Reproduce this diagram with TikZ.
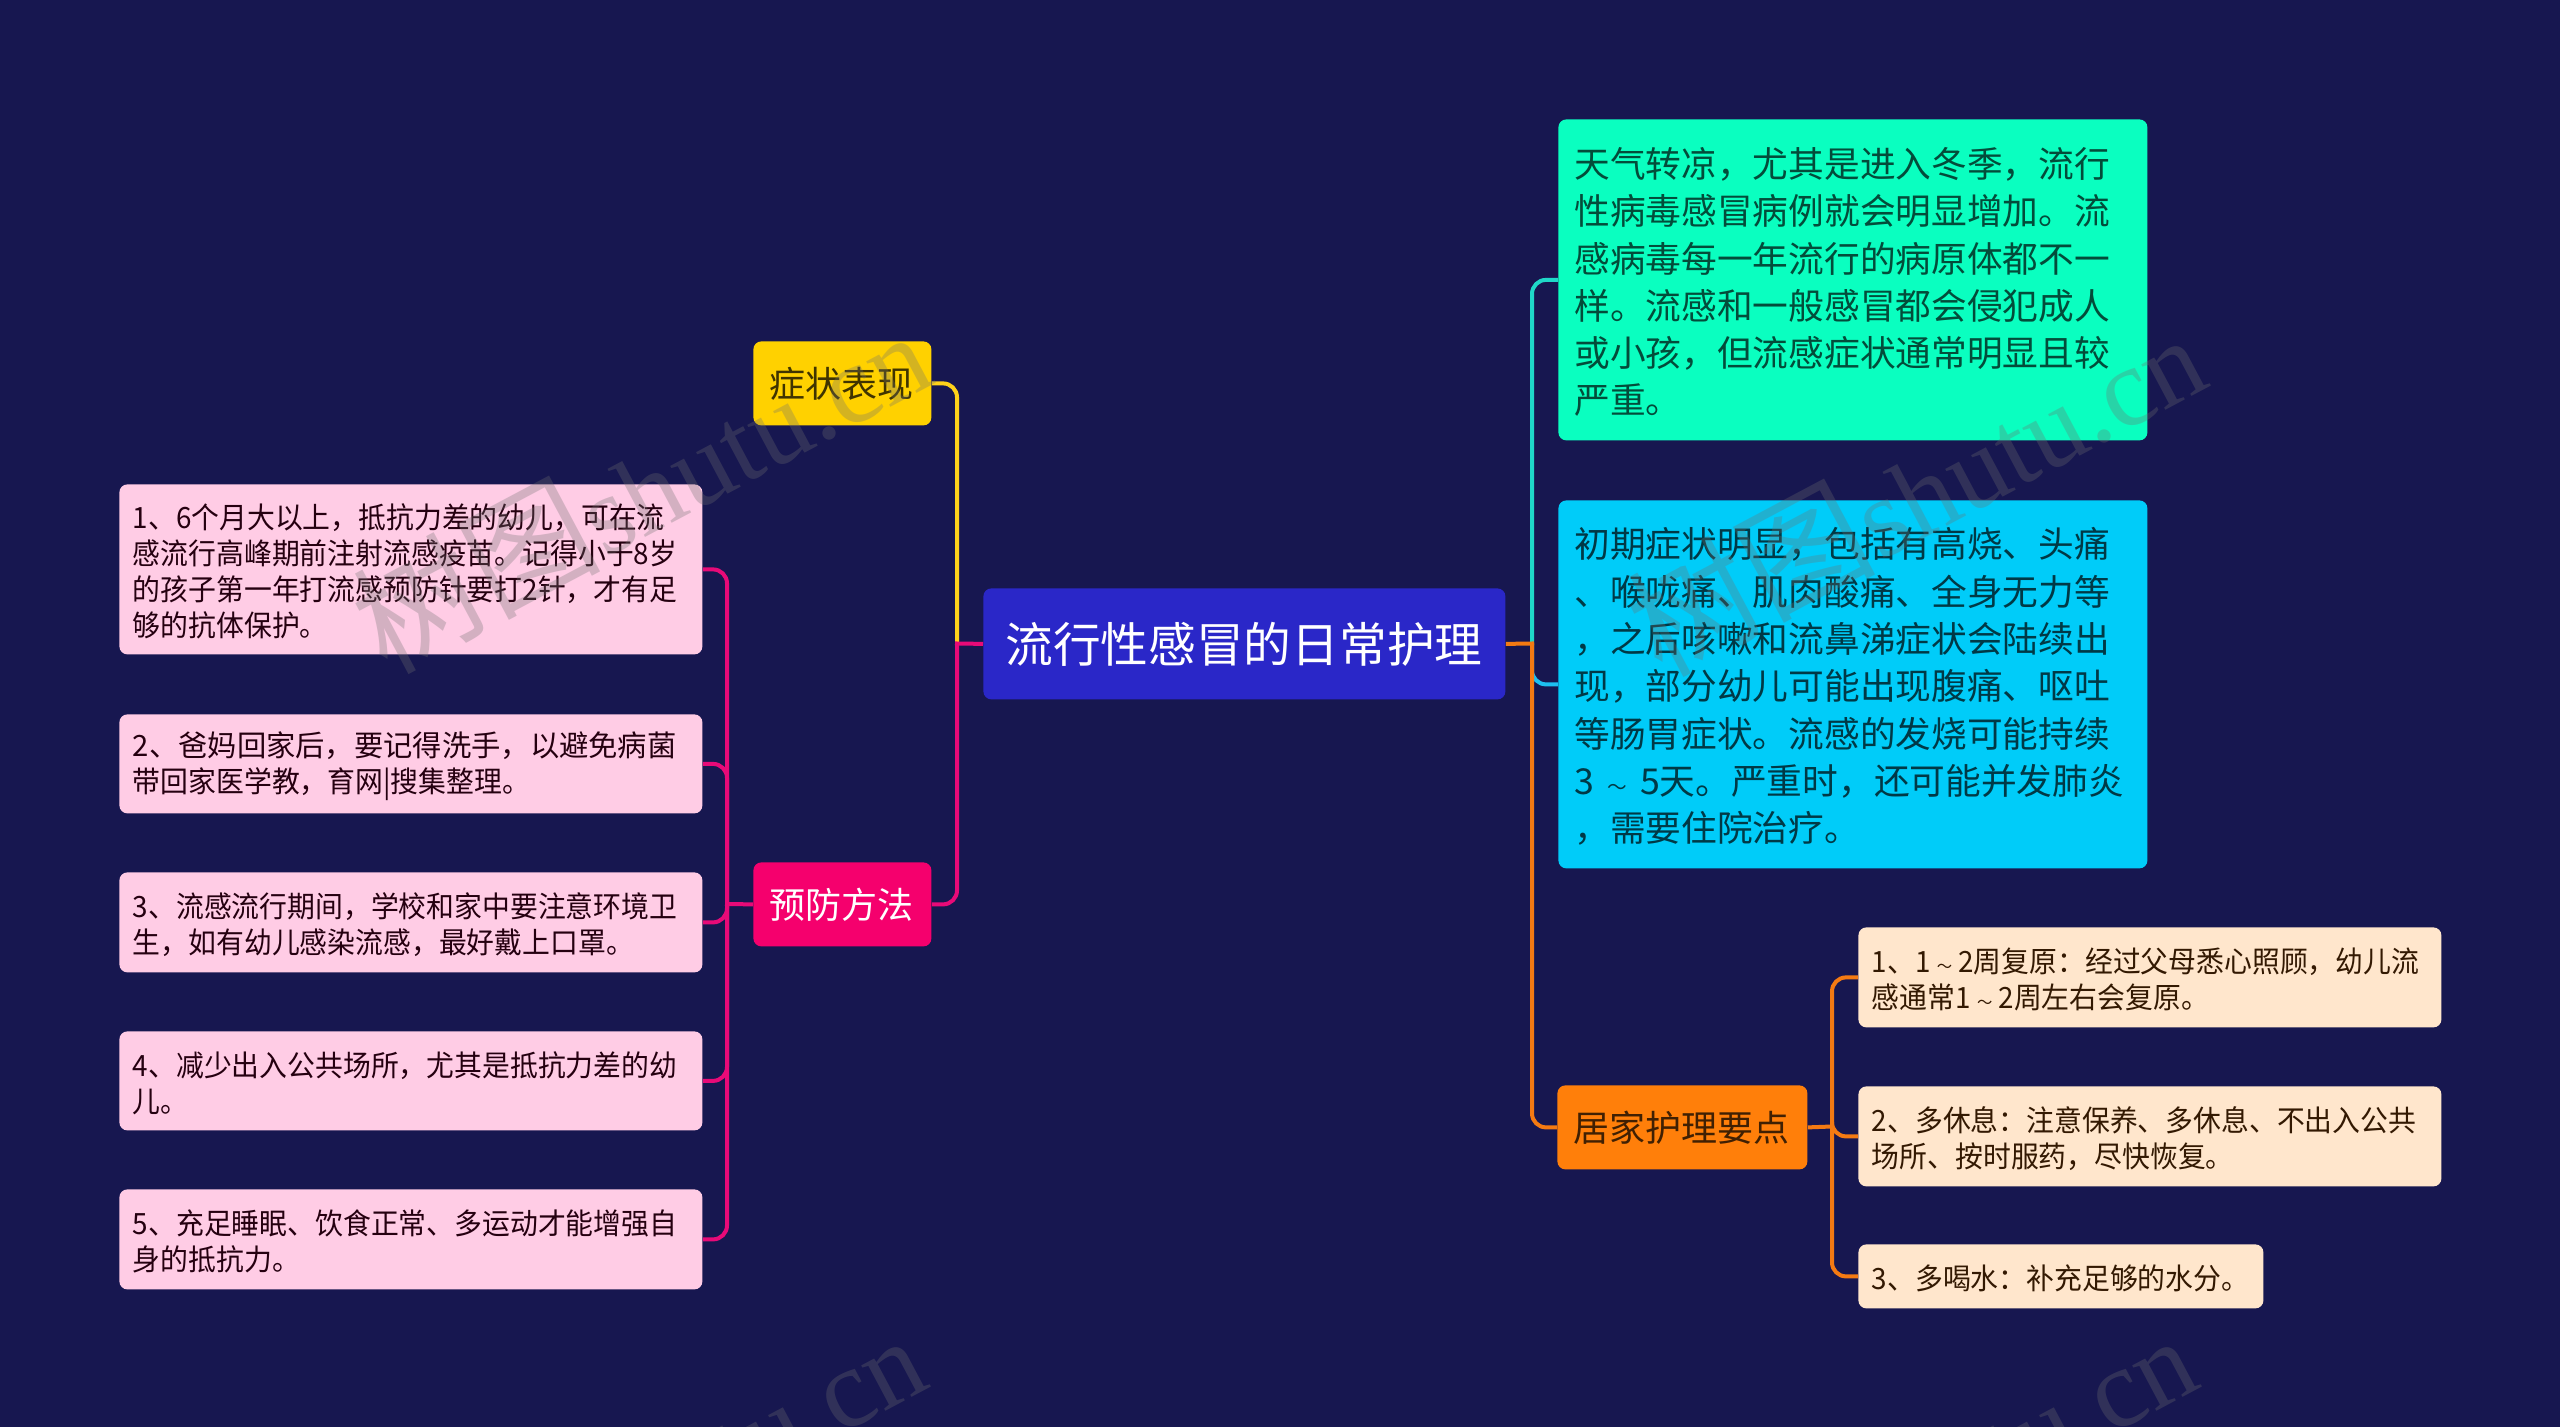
\documentclass[tikz,border=0pt]{standalone}
\usepackage{fontspec}
\setmainfont{Noto Sans CJK SC}
\newfontfamily\wmlatin{Liberation Serif}
\newfontfamily\narrowcjk[FakeStretch=0.95]{Noto Sans CJK SC}
\newcommand{\tld}{\makebox[0.95em]{\scalebox{0.55}{～}}}
\newcommand{\wmark}{树图{\wmlatin\fontsize{56}{56}\selectfont shutu.cn}}
\definecolor{bgc}{HTML}{171750}
\definecolor{rootc}{HTML}{2A27C8}
\definecolor{tealc}{HTML}{0AFFC0}
\definecolor{bluec}{HTML}{00CCF9}
\definecolor{orangec}{HTML}{FF7F0A}
\definecolor{creamc}{HTML}{FFE6CC}
\definecolor{yellowc}{HTML}{FFD100}
\definecolor{magc}{HTML}{F5006D}
\definecolor{pinkc}{HTML}{FFCCE5}
\definecolor{ltealc}{HTML}{1FD8C8}
\definecolor{lbluec}{HTML}{1DBFF0}
\definecolor{lorangec}{HTML}{F47A12}
\definecolor{lyellowc}{HTML}{FFD21A}
\definecolor{lmagc}{HTML}{E80A78}
\definecolor{wmc}{HTML}{707070}
\tikzset{
  x=0.5pt,y=-0.5pt,
  boxbase/.style={anchor=north west,rounded corners=4pt,inner ysep=0pt,align=left},
  rootbox/.style={boxbase,fill=rootc,text=white,inner xsep=11pt,font=\fontsize{23.85}{30}\selectfont,text width=239pt,minimum height=55.5pt},
  bigbox/.style={boxbase,inner xsep=8pt,font=\fontsize{17.85}{23.65}\selectfont,text width=278.5pt,text height=17.3pt},
  topicbox/.style={boxbase,inner xsep=8pt,font=\fontsize{18}{23}\selectfont,minimum height=42pt},
  smallbox/.style={boxbase,inner xsep=6.75pt,font=\narrowcjk\fontsize{14.65}{17.9}\selectfont,text height=14.4pt},
  pinkbox/.style={smallbox,fill=pinkc,text=black!75!magc!60!black,text width=278pt},
  creambox/.style={smallbox,fill=creamc,text=black!80!orangec,text width=278pt,minimum height=50pt},
  conn/.style={line width=2pt,rounded corners=7pt},
  stub/.style={line width=2pt,shorten >=-1pt},
  watermark/.style={rotate=28,text=wmc,opacity=0.3,font=\fontsize{62}{62}\selectfont}
}
\begin{document}
\begin{tikzpicture}
\useasboundingbox (0,0) rectangle (2560,1427);
\clip (0,0) rectangle (2560,1427);
\fill[bgc] (0,0) rectangle (2560,1427);

% junction points
\coordinate (jl) at (957,643.5);
\coordinate (jr) at (1532,643.5);
\coordinate (jm) at (727,904);
\coordinate (jo) at (1832,1126.5);

\node[rootbox] (root) at (983,588) {流行性感冒的日常护理};

\node[bigbox,fill=tealc,text=black!70!tealc,minimum height=160.5pt] (teal) at (1558,119) {天气转凉，尤其是进入冬季，流行\\性病毒感冒病例就会明显增加。流\\感病毒每一年流行的病原体都不一\\样。流感和一般感冒都会侵犯成人\\或小孩，但流感症状通常明显且较\\严重。};
\node[bigbox,fill=bluec,text=black!72!bluec,minimum height=184pt] (blue) at (1558,500) {初期症状明显，包括有高烧、头痛\\、喉咙痛、肌肉酸痛、全身无力等\\，之后咳嗽和流鼻涕症状会陆续出\\现，部分幼儿可能出现腹痛、呕吐\\等肠胃症状。流感的发烧可能持续\\3\,\tld\,5天。严重时，还可能并发肺炎\\，需要住院治疗。};
\node[topicbox,fill=orangec,text=black!75!orangec,text width=109pt] (home) at (1557,1085) {居家护理要点};
\node[creambox] (c1) at (1858,927) {1、1\tld 2周复原：经过父母悉心照顾，幼儿流\\感通常1\tld 2周左右会复原。};
\node[creambox] (c2) at (1858,1086) {2、多休息：注意保养、多休息、不出入公共\\场所、按时服药，尽快恢复。};
\node[smallbox,fill=creamc,text=black!80!orangec,text width=189pt,minimum height=32pt] (c3) at (1858,1244) {3、多喝水：补充足够的水分。};

\node[topicbox,fill=yellowc,text=black!75!yellowc,text width=73pt] (sym) at (753,341) {症状表现};
\node[topicbox,fill=magc,text=white,text width=73pt] (prev) at (753,862) {预防方法};

\node[pinkbox,minimum height=85pt] (p1) at (119,484) {1、6个月大以上，抵抗力差的幼儿，可在流\\感流行高峰期前注射流感疫苗。记得小于8岁\\的孩子第一年打流感预防针要打2针，才有足\\够的抗体保护。};
\node[pinkbox,minimum height=49.5pt] (p2) at (119,714) {{\rmfamily 2、爸妈回家后，要记得洗手，以避免病菌}\\带回家医学教，育网|搜集整理。};
\node[pinkbox,minimum height=50pt] (p3) at (119,872) {3、流感流行期间，学校和家中要注意环境卫\\生，如有幼儿感染流感，最好戴上口罩。};
\node[pinkbox,minimum height=49.5pt] (p4) at (119,1031) {4、减少出入公共场所，尤其是抵抗力差的幼\\儿。};
\node[pinkbox,minimum height=50pt] (p5) at (119,1189) {5、充足睡眠、饮食正常、多运动才能增强自\\身的抵抗力。};

% connectors
\draw[conn,lyellowc] (jl) |- (sym.east);
\draw[conn,lmagc] (jl) |- (prev.east);
\draw[stub,lmagc] (root.west) -- (jl);
\draw[conn,ltealc] (jr) |- (teal.west);
\draw[conn,lbluec] (jr) |- (blue.west);
\draw[conn,lorangec] (jr) |- (home.west);
\draw[stub,lorangec] (root.east) -- (jr);
\draw[conn,lorangec] (jo) |- (c1.west);
\draw[conn,lorangec] (jo) |- (c2.west);
\draw[conn,lorangec] (jo) |- (c3.west);
\draw[stub,lorangec] (home.east) -- (jo);
\foreach \n in {p1,p2,p3,p4,p5} {\draw[conn,lmagc] (jm) |- (\n.east);}
\draw[stub,lmagc] (prev.west) -- (jm);

% watermarks
\node[watermark] (w1) at (640,487) {\wmark};
\node[watermark] (w2) at (1915,490) {\wmark};
\node[watermark] (w3) at (635,1491) {\wmark};
\node[watermark] (w4) at (1906,1491) {\wmark};
\end{tikzpicture}
\end{document}
